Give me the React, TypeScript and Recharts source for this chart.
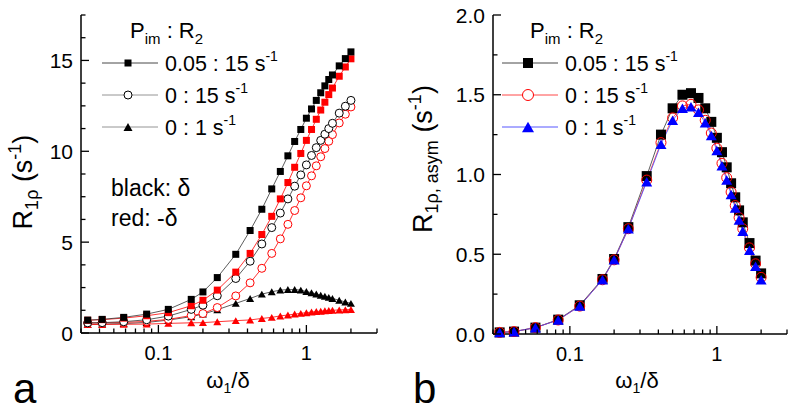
import React from 'react';
import { LineChart, Line, XAxis, YAxis, Legend } from 'recharts';

const FONT = '"Liberation Sans", Arial, sans-serif';

// omega1 / delta
const omega = [
  0.0333, 0.0417, 0.0583, 0.0833, 0.1167, 0.1667, 0.2, 0.25, 0.3333, 0.4167, 0.5, 0.5833, 0.6667,
  0.75, 0.8333, 0.9167, 1.0, 1.0833, 1.1667, 1.25, 1.3333, 1.4167, 1.5, 1.6667, 1.8333, 2.0,
];
const xTicks = [0.03, 0.04, 0.05, 0.06, 0.07, 0.08, 0.09, 0.1, 0.2, 0.3, 0.4, 0.5, 0.6, 0.7, 0.8, 0.9, 1, 2, 3];
const yTicksA = [0, 1.25, 2.5, 3.75, 5, 6.25, 7.5, 8.75, 10, 11.25, 12.5, 13.75, 15, 16.25, 17.5];
const yTicksB = [0, 0.25, 0.5, 0.75, 1, 1.25, 1.5, 1.75, 2];

// panel a: R1rho, black = +delta, red = -delta
const sqPlus = [0.71, 0.75, 0.86, 1.04, 1.3, 1.85, 2.26, 3.05, 4.33, 5.64, 6.81, 7.93, 8.89, 9.75, 10.54, 11.2, 11.82, 12.33, 12.8, 13.22, 13.6, 13.95, 14.2, 14.7, 15.1, 15.47];
const sqMinus = [0.7, 0.735, 0.82, 0.95, 1.12, 1.5, 1.8, 2.36, 3.35, 4.38, 5.42, 6.42, 7.38, 8.28, 9.12, 9.88, 10.6, 11.2, 11.76, 12.27, 12.7, 13.12, 13.48, 14.13, 14.64, 15.09];
const ocPlus = [0.56, 0.57, 0.62, 0.73, 0.93, 1.3, 1.53, 2.05, 3.0, 3.95, 4.9, 5.8, 6.6, 7.38, 8.08, 8.7, 9.25, 9.77, 10.2, 10.6, 10.94, 11.25, 11.54, 12.1, 12.48, 12.8];
const ocMinus = [0.55, 0.555, 0.58, 0.64, 0.75, 0.96, 1.07, 1.4, 2.04, 2.76, 3.56, 4.38, 5.18, 5.98, 6.74, 7.44, 8.1, 8.65, 9.2, 9.7, 10.15, 10.55, 10.92, 11.56, 12.04, 12.44];
const trPlus = [0.48, 0.49, 0.52, 0.58, 0.71, 0.9, 1.04, 1.28, 1.63, 1.9, 2.14, 2.27, 2.36, 2.39, 2.39, 2.36, 2.28, 2.22, 2.15, 2.08, 2.02, 1.96, 1.9, 1.8, 1.71, 1.63];
const trMinus = [0.47, 0.47, 0.48, 0.49, 0.53, 0.56, 0.57, 0.62, 0.68, 0.72, 0.8, 0.86, 0.94, 0.99, 1.04, 1.08, 1.12, 1.15, 1.18, 1.2, 1.22, 1.24, 1.25, 1.27, 1.28, 1.29];

// panel b: R1rho,asym
const asymSq = [0.01, 0.015, 0.04, 0.09, 0.18, 0.345, 0.47, 0.67, 0.99, 1.25, 1.415, 1.5, 1.51, 1.48, 1.415, 1.33, 1.23, 1.14, 1.045, 0.945, 0.857, 0.775, 0.7, 0.57, 0.46, 0.38];
const asymOc = [0.01, 0.015, 0.04, 0.088, 0.175, 0.34, 0.465, 0.66, 0.965, 1.2, 1.355, 1.43, 1.44, 1.405, 1.34, 1.26, 1.165, 1.07, 0.98, 0.89, 0.805, 0.73, 0.66, 0.54, 0.44, 0.355];
const asymTr = [0.01, 0.015, 0.04, 0.088, 0.175, 0.34, 0.465, 0.66, 0.955, 1.19, 1.34, 1.415, 1.425, 1.39, 1.325, 1.245, 1.15, 1.055, 0.965, 0.875, 0.79, 0.715, 0.645, 0.525, 0.425, 0.34];

const legendLabels = ['0.05 : 15 s', '0 : 15 s', '0 : 1 s'];

const dataA = omega.map((w, i) => ({
  w,
  sqP: sqPlus[i],
  sqM: sqMinus[i],
  ocP: ocPlus[i],
  ocM: ocMinus[i],
  trP: trPlus[i],
  trM: trMinus[i],
}));
const dataB = omega.map((w, i) => ({ w, sq: asymSq[i], oc: asymOc[i], tr: asymTr[i] }));

// markers
const sqShape = (cx: number, cy: number, s: number, fill: string, k?: any) => (
  <rect key={k} x={cx - s / 2} y={cy - s / 2} width={s} height={s} fill={fill} />
);
const ocShape = (cx: number, cy: number, r: number, stroke: string, fill: string, k?: any) => (
  <circle key={k} cx={cx} cy={cy} r={r} stroke={stroke} strokeWidth={1} fill={fill} />
);
const trShape = (cx: number, cy: number, w: number, fill: string, k?: any) => {
  const h = w * 0.87;
  return (
    <path
      key={k}
      d={`M${cx},${cy - h / 2}L${cx + w / 2},${cy + h / 2}L${cx - w / 2},${cy + h / 2}Z`}
      fill={fill}
    />
  );
};

const sqDot = (fill: string, s: number) => (p: any) =>
  p.cy == null ? <g key={p.index} /> : sqShape(p.cx, p.cy, s, fill, p.index);
const ocDot = (stroke: string, r: number, fill: string) => (p: any) =>
  p.cy == null ? <g key={p.index} /> : ocShape(p.cx, p.cy, r, stroke, fill, p.index);
const trDot = (fill: string, w: number) => (p: any) =>
  p.cy == null ? <g key={p.index} /> : trShape(p.cx, p.cy, w, fill, p.index);

// inward ticks, labels outside
const xTick = (props: any) => {
  const { x, y, payload } = props;
  const v = payload.value;
  const major = v === 0.1 || v === 1;
  return (
    <g>
      <line x1={x} x2={x} y1={y} y2={y - (major ? 8 : 4.5)} stroke="#000" strokeWidth={1.3} />
      {major && (
        <text x={x} y={y + 27} textAnchor="middle" fontSize={20} fontFamily={FONT} fill="#000">
          {String(v)}
        </text>
      )}
    </g>
  );
};

const yTick = (step: number, fmt: (v: number) => string) => (props: any) => {
  const { x, y, payload } = props;
  const v = payload.value;
  const major = Math.abs(v / step - Math.round(v / step)) < 1e-6;
  return (
    <g>
      <line x1={x} x2={x + (major ? 8 : 4.5)} y1={y} y2={y} stroke="#000" strokeWidth={1.3} />
      {major && (
        <text x={x - 8} y={y + 7.5} textAnchor="end" fontSize={21} fontFamily={FONT} fill="#000">
          {fmt(v)}
        </text>
      )}
    </g>
  );
};

const YTitleA = () => (
  <text transform="translate(32,182) rotate(-90)" textAnchor="middle" fontSize={27} fontFamily={FONT} fill="#000">
    R<tspan fontSize={18} dy={6}>1ρ</tspan>
    <tspan dy={-6}> (s</tspan>
    <tspan fontSize={18} dy={-11}>-1</tspan>
    <tspan dy={11}>)</tspan>
  </text>
);

const YTitleB = () => (
  <text transform="translate(32,159) rotate(-90)" textAnchor="middle" fontSize={27} fontFamily={FONT} fill="#000">
    R<tspan fontSize={18} dy={6}>1ρ, asym</tspan>
    <tspan dy={-6}> (s</tspan>
    <tspan fontSize={18} dy={-11}>-1</tspan>
    <tspan dy={11}>)</tspan>
  </text>
);

const XTitle = ({ cx, letter }: { cx: number; letter: string }) => (
  <g fontFamily={FONT} fill="#000">
    <text x={cx} y={388} textAnchor="middle" fontSize={22}>
      ω<tspan fontSize={14} dy={5}>1</tspan>
      <tspan dy={-5}>/δ</tspan>
    </text>
    <text x={13} y={403} fontSize={42}>
      {letter}
    </text>
  </g>
);

type LegendRow = { line: string; marker: (cx: number, cy: number) => React.ReactNode };

const LegendBox = ({ rows, note }: { rows: LegendRow[]; note?: boolean }) => (
  <svg width={210} height={235} style={{ overflow: 'visible' }}>
    <g fontFamily={FONT} fill="#000">
      <text x={35} y={28} fontSize={22}>
        P<tspan fontSize={15} dy={6}>im</tspan>
        <tspan dy={-6}> : R</tspan>
        <tspan fontSize={15} dy={6}>2</tspan>
      </text>
      {rows.map((r, i) => {
        const cy = 53 + i * 32;
        return (
          <g key={i}>
            <line x1={7} x2={63} y1={cy} y2={cy} stroke={r.line} strokeWidth={0.9} />
            {r.marker(33, cy)}
            <text x={70} y={cy + 8} fontSize={21.5}>
              {legendLabels[i]}
              <tspan fontSize={14} dy={-10}>-1</tspan>
            </text>
          </g>
        );
      })}
      {note && (
        <>
          <text x={16} y={186} fontSize={23}>black: δ</text>
          <text x={16} y={216} fontSize={23}>red: -δ</text>
        </>
      )}
    </g>
  </svg>
);

const rowsA: LegendRow[] = [
  { line: '#333', marker: (x, y) => sqShape(x, y, 7, '#000') },
  { line: '#888', marker: (x, y) => ocShape(x, y, 4, '#000', '#fff') },
  { line: '#888', marker: (x, y) => trShape(x, y, 9, '#000') },
];
const rowsB: LegendRow[] = [
  { line: '#333', marker: (x, y) => sqShape(x, y, 10, '#000') },
  { line: '#f33', marker: (x, y) => ocShape(x, y, 5.5, '#f00', '#fff') },
  { line: '#44f', marker: (x, y) => trShape(x, y, 12, '#00f') },
];

const axisLine = { stroke: '#000', strokeWidth: 1.5 };

const PanelA = () => (
  <LineChart width={395} height={411} data={dataA} margin={{ top: 15, right: 18, bottom: 0, left: 0 }}>
    <XAxis
      dataKey="w"
      type="number"
      scale="log"
      domain={[0.03, 3]}
      ticks={xTicks}
      interval={0}
      allowDataOverflow
      height={78}
      axisLine={axisLine}
      tickLine={false}
      tickSize={0}
      tickMargin={0}
      tick={xTick}
      label={<XTitle cx={228} letter="a" />}
    />
    <YAxis
      type="number"
      domain={[0, 17.5]}
      ticks={yTicksA}
      interval={0}
      width={81}
      axisLine={axisLine}
      tickLine={false}
      tickSize={0}
      tickMargin={0}
      tick={yTick(5, (v) => String(v))}
      label={<YTitleA />}
    />
    <Legend
      layout="vertical"
      align="center"
      verticalAlign="middle"
      wrapperStyle={{ left: 95, top: 10, width: 210, height: 235 }}
      content={() => <LegendBox rows={rowsA} note />}
    />
    <Line dataKey="trP" stroke="#333" strokeWidth={0.8} dot={trDot('#000', 8)} activeDot={false} isAnimationActive={false} />
    <Line dataKey="trM" stroke="#f00" strokeWidth={0.8} dot={trDot('#f00', 8)} activeDot={false} isAnimationActive={false} />
    <Line dataKey="ocM" stroke="#f00" strokeWidth={0.8} dot={ocDot('#f00', 4, '#fff')} activeDot={false} isAnimationActive={false} />
    <Line dataKey="ocP" stroke="#333" strokeWidth={0.8} dot={ocDot('#000', 4, '#fff')} activeDot={false} isAnimationActive={false} />
    <Line dataKey="sqM" stroke="#f00" strokeWidth={0.8} dot={sqDot('#f00', 7)} activeDot={false} isAnimationActive={false} />
    <Line dataKey="sqP" stroke="#333" strokeWidth={0.8} dot={sqDot('#000', 7)} activeDot={false} isAnimationActive={false} />
  </LineChart>
);

const PanelB = () => (
  <LineChart width={395} height={411} data={dataB} margin={{ top: 15, right: 8, bottom: 0, left: 0 }}>
    <XAxis
      dataKey="w"
      type="number"
      scale="log"
      domain={[0.03, 3]}
      ticks={xTicks}
      interval={0}
      allowDataOverflow
      height={77}
      axisLine={axisLine}
      tickLine={false}
      tickSize={0}
      tickMargin={0}
      tick={xTick}
      label={<XTitle cx={237} letter="b" />}
    />
    <YAxis
      type="number"
      domain={[0, 2]}
      ticks={yTicksB}
      interval={0}
      width={93}
      axisLine={axisLine}
      tickLine={false}
      tickSize={0}
      tickMargin={0}
      tick={yTick(0.5, (v) => v.toFixed(1))}
      label={<YTitleB />}
    />
    <Legend
      layout="vertical"
      align="center"
      verticalAlign="middle"
      wrapperStyle={{ left: 95, top: 10, width: 210, height: 140 }}
      content={() => <LegendBox rows={rowsB} />}
    />
    <Line dataKey="sq" stroke="#333" strokeWidth={0.8} dot={sqDot('#000', 10)} activeDot={false} isAnimationActive={false} />
    <Line dataKey="oc" stroke="#f33" strokeWidth={0.8} dot={ocDot('#f00', 5, 'none')} activeDot={false} isAnimationActive={false} />
    <Line dataKey="tr" stroke="#44f" strokeWidth={0.8} dot={trDot('#00f', 11)} activeDot={false} isAnimationActive={false} />
  </LineChart>
);

export default function App() {
  return (
    <div style={{ position: 'absolute', left: 0, top: 0, width: 795, height: 411, background: '#fff' }}>
      <div style={{ position: 'absolute', left: 0, top: 0 }}>
        <PanelA />
      </div>
      <div style={{ position: 'absolute', left: 400, top: 0 }}>
        <PanelB />
      </div>
    </div>
  );
}
